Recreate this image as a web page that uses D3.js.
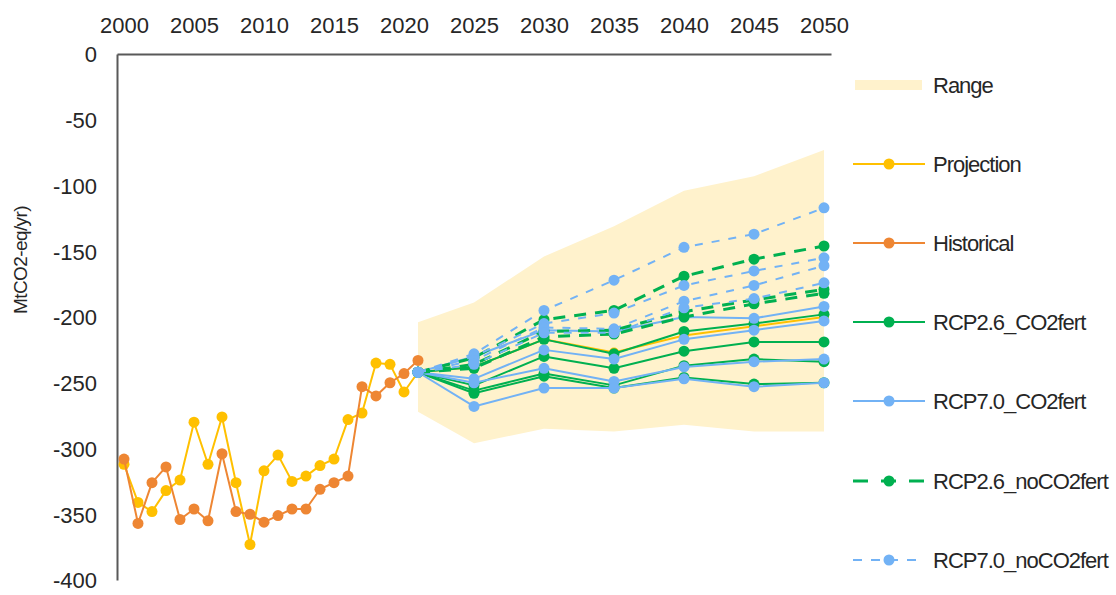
<!DOCTYPE html>
<html><head><meta charset="utf-8">
<script src="https://cdn.jsdelivr.net/npm/d3@7"></script>
<style>
body{margin:0;background:#fff}
text{font-family:"Liberation Sans",Arial,sans-serif;fill:#262626}
</style>
</head><body>
<svg id="c" width="1116" height="595"></svg>
<script>
// ---------- DATA ----------
const years = [2000,2001,2002,2003,2004,2005,2006,2007,2008,2009,2010,2011,2012,2013,2014,2015,2016,2017,2018,2019,2020,2021];
const projection = [-312,-341,-348,-332,-324,-280,-312,-276,-326,-373,-317,-305,-325,-321,-313,-308,-278,-273,-235,-236,-257,-242];
const historical = [-308,-357,-326,-314,-354,-346,-355,-304,-348,-350,-356,-351,-346,-346,-331,-326,-321,-253,-260,-250,-243,-233];

const futureYears = [2021,2025,2030,2035,2040,2045,2050];
const projectionFuture = [-242,-238,-217,-227,-214,-207,-200];
const rangeTop    = [-204,-189,-154,-131,-104,-93,-73];
const rangeBottom = [-272,-296,-285,-287,-282,-287,-287];

const rcp26Fert = [
  [-242,-238,-217,-228,-211,-205,-198],
  [-242,-252,-230,-239,-226,-219,-219],
  [-242,-256,-243,-252,-237,-232,-234],
  [-242,-258,-245,-254,-246,-251,-250]
];
const rcp70Fert = [
  [-242,-230,-210,-211,-200,-201,-192],
  [-242,-247,-225,-232,-217,-210,-203],
  [-242,-250,-239,-249,-238,-234,-232],
  [-242,-268,-254,-254,-247,-253,-250]
];
const rcp26NoFert = [
  [-242,-231,-202,-195,-169,-156,-146],
  [-242,-236,-211,-210,-196,-187,-179],
  [-242,-239,-215,-213,-200,-190,-182]
];
const rcp70NoFert = [
  [-242,-228,-195,-172,-147,-137,-117],
  [-242,-230,-205,-197,-176,-165,-155],
  [-242,-233,-208,-209,-188,-176,-161],
  [-242,-236,-212,-212,-193,-186,-174]
];

const xTicks = [2000,2005,2010,2015,2020,2025,2030,2035,2040,2045,2050];
const yTicks = [0,-50,-100,-150,-200,-250,-300,-350,-400];
const legendLabels = ["Range","Projection","Historical","RCP2.6_CO2fert","RCP7.0_CO2fert","RCP2.6_noCO2fert","RCP7.0_noCO2fert"];

// ---------- STYLES ----------
const C = {range:"#FFF2CC", proj:"#FFC000", hist:"#EE8633", green:"#00B050", blue:"#72B2F5", axis:"#595959"};

const svg = d3.select("#c");
const x = d3.scaleLinear().domain([1999.5, 2050.5]).range([117, 831]);
const y = d3.scaleLinear().domain([0, -400]).range([54, 580]);

// Range band
const area = d3.area()
  .x((d,i)=>x(futureYears[i]))
  .y0((d,i)=>y(rangeBottom[i]))
  .y1(d=>y(d));
svg.append("path").datum(rangeTop).attr("d", area).attr("fill", C.range);

// Axes
const xAxis = svg.append("g").attr("transform","translate(0,54)")
  .call(d3.axisTop(x).tickValues(xTicks).tickFormat(d=>String(d)).tickSize(0).tickPadding(21));
const yAxis = svg.append("g").attr("transform","translate(117,0)")
  .call(d3.axisLeft(y).tickValues(yTicks).tickFormat(d=>String(d)).tickSize(0).tickPadding(20));
[xAxis,yAxis].forEach(a=>{
  a.select(".domain").attr("stroke",C.axis).attr("stroke-width",2);
  a.selectAll("text").style("font-size","22px").attr("fill","#262626")
   .style("font-family",'"Liberation Sans",Arial,sans-serif');
});
yAxis.selectAll("text").attr("dy","0.36em");

svg.append("text")
  .attr("transform","translate(27,260) rotate(-90)")
  .attr("text-anchor","middle")
  .style("font-size","19px").style("letter-spacing","-0.6px")
  .text("MtCO2-eq/yr)");

// series helper
function drawSeries(xs, ys, color, width, dash, r){
  const line = d3.line().x((d,i)=>x(xs[i])).y(d=>y(d));
  const g = svg.append("g");
  g.append("path").datum(ys).attr("d", line).attr("fill","none")
    .attr("stroke", color).attr("stroke-width", width)
    .attr("stroke-dasharray", dash || null).attr("stroke-linejoin","round");
  g.selectAll("circle").data(ys).join("circle")
    .attr("cx",(d,i)=>x(xs[i])).attr("cy",d=>y(d)).attr("r",r).attr("fill",color);
}

// Projection (historical period + continuation), Historical
drawSeries(futureYears, projectionFuture, C.proj, 2, null, 5);
drawSeries(years, projection, C.proj, 2, null, 5.5);
drawSeries(years, historical, C.hist, 2, null, 5.5);

rcp26Fert.forEach(s=>drawSeries(futureYears, s, C.green, 2, null, 5.5));
rcp70Fert.forEach(s=>drawSeries(futureYears, s, C.blue, 2, null, 5.5));
rcp26NoFert.forEach(s=>drawSeries(futureYears, s, C.green, 3, "12,9", 5.5));
rcp70NoFert.forEach(s=>drawSeries(futureYears, s, C.blue, 2, "8,9", 5.5));

// Legend
const legendY = [85,164,243,322,401,481,560];
const legendStyle = [
  {type:"rect", color:C.range},
  {color:C.proj, w:2, dash:null},
  {color:C.hist, w:2, dash:null},
  {color:C.green, w:2, dash:null},
  {color:C.blue, w:2, dash:null},
  {color:C.green, w:3, dash:"15,13"},
  {color:C.blue, w:2, dash:"9,9"}
];
const lg = svg.append("g");
legendLabels.forEach((lab,i)=>{
  const st = legendStyle[i], cy = legendY[i];
  if(st.type==="rect"){
    lg.append("rect").attr("x",855).attr("y",cy-5).attr("width",67).attr("height",10).attr("fill",st.color);
  } else {
    lg.append("line").attr("x1",853).attr("x2",925).attr("y1",cy).attr("y2",cy)
      .attr("stroke",st.color).attr("stroke-width",st.w).attr("stroke-dasharray",st.dash);
    lg.append("circle").attr("cx",889).attr("cy",cy).attr("r",5.5).attr("fill",st.color);
  }
  lg.append("text").attr("x",933).attr("y",cy).attr("dy","0.36em")
    .style("font-size","22px").style("letter-spacing","-1px").text(lab);
});
</script>
</body></html>
